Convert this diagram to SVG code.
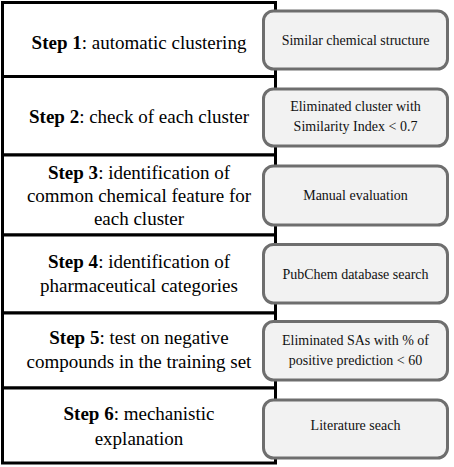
<svg xmlns="http://www.w3.org/2000/svg" width="454" height="467" viewBox="0 0 454 467">
<style>
.step{fill:#fff;stroke:#000;stroke-width:3}
.note{fill:#f2f2f2;stroke:#6e6e6e;stroke-width:3}
.st{font-family:'Liberation Serif','DejaVu Serif',serif;font-size:19px;fill:#000;text-anchor:middle}
.nt{font-family:'Liberation Serif','DejaVu Serif',serif;font-size:14px;fill:#111;text-anchor:middle}
</style>
<rect width="454" height="467" fill="#fff"/>
<g id="connectors"></g>
<g id="step1"><rect class="step" x="2.5" y="2.5" width="273" height="74"/><text class="st" x="139" y="49"><tspan font-weight="bold">Step 1</tspan>: automatic clustering</text></g>
<g id="step2"><rect class="step" x="2.5" y="76.5" width="273" height="78.5"/><text class="st" x="139" y="123"><tspan font-weight="bold">Step 2</tspan>: check of each cluster</text></g>
<g id="step3"><rect class="step" x="2.5" y="155" width="273" height="80"/><text class="st" x="139" y="179"><tspan font-weight="bold">Step 3</tspan>: identification of</text><text class="st" x="139" y="202">common chemical feature for</text><text class="st" x="139" y="225">each cluster</text></g>
<g id="step4"><rect class="step" x="2.5" y="235" width="273" height="78"/><text class="st" x="139" y="268"><tspan font-weight="bold">Step 4</tspan>: identification of</text><text class="st" x="139" y="292">pharmaceutical categories</text></g>
<g id="step5"><rect class="step" x="2.5" y="313" width="273" height="75"/><text class="st" x="139" y="344"><tspan font-weight="bold">Step 5</tspan>: test on negative</text><text class="st" x="139" y="368">compounds in the training set</text></g>
<g id="step6"><rect class="step" x="2.5" y="388" width="273" height="75"/><text class="st" x="139" y="420"><tspan font-weight="bold">Step 6</tspan>: mechanistic</text><text class="st" x="139" y="445">explanation</text></g>
<g id="note1"><rect class="note" x="263.5" y="11" width="184" height="58" rx="10"/><text class="nt" x="355.5" y="45">Similar chemical structure</text></g>
<g id="note2"><rect class="note" x="263.5" y="89" width="184" height="57" rx="10"/><text class="nt" x="355.5" y="111">Eliminated cluster with</text><text class="nt" x="355.5" y="131">Similarity Index &lt; 0.7</text></g>
<g id="note3"><rect class="note" x="263.5" y="166" width="184" height="59" rx="10"/><text class="nt" x="355.5" y="200">Manual  evaluation</text></g>
<g id="note4"><rect class="note" x="263.5" y="244.5" width="184" height="58.5" rx="10"/><text class="nt" x="355.5" y="279">PubChem database search</text></g>
<g id="note5"><rect class="note" x="263.5" y="321.5" width="184" height="58.5" rx="10"/><text class="nt" x="355.5" y="345">Eliminated SAs with % of</text><text class="nt" x="355.5" y="365">positive prediction &lt; 60</text></g>
<g id="note6"><rect class="note" x="263.5" y="400" width="184" height="58" rx="10"/><text class="nt" x="355.5" y="430">Literature seach</text></g>
</svg>
